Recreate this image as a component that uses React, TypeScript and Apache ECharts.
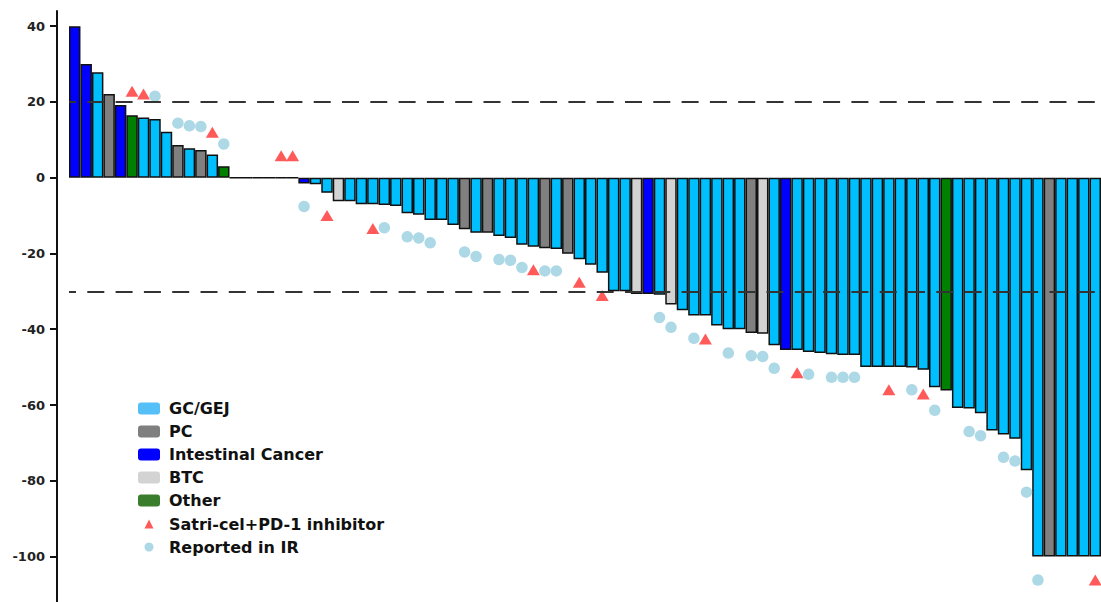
import { useEffect, useRef } from "react";
import * as echarts from "echarts";

const categoryNames = ["GC/GEJ", "PC", "Intestinal Cancer", "BTC", "Other"];
const categoryCodes = ["G", "P", "I", "B", "O"];
const barColors = ["#00BFFF", "#808080", "#0000FF", "#D3D3D3", "#008000"];
const legendColors = ["#55BFF7", "#7F7F7F", "#0000FF", "#D3D3D3", "#3A7D2C"];

// tumour type per patient (sorted waterfall order)
const tumourTypes = [
  "I", "I", "G", "P", "I", "O", "G", "G", "G", "P", "G", "P", "G", "O",
  "G", "G", "G", "G", "G", "G",
  "I", "G", "G", "B",
  "G", "G", "G", "G", "G", "G", "G", "G", "G", "G",
  "P", "G", "P", "G", "G", "G", "G", "P", "G", "P",
  "G", "G", "G", "G", "G",
  "B", "I", "G", "B",
  "G", "G", "G", "G", "G", "G",
  "P", "B", "G", "I",
  "G", "G", "G", "G", "G", "G", "G", "G", "G", "G", "G", "G", "G",
  "O",
  "G", "G", "G", "G", "G", "G", "G", "G",
  "P",
  "G", "G", "G", "G",
];

// best percentage change from baseline
const bestChange = [
  40, 30, 27.8, 22.1, 19.2, 16.5, 15.9, 15.5, 12.1, 8.6, 7.8, 7.3, 6.1, 3.0,
  0, 0, 0, 0, 0, 0,
  -1.5, -1.7, -4.0, -6.2,
  -6.2, -7.0, -7.0, -7.2, -7.5, -9.4, -9.8, -11.2, -11.2, -12.5,
  -13.6, -14.5, -14.5, -15.4, -15.9, -17.7, -18.2, -18.6, -18.8, -20.1,
  -21.5, -23.0, -25.1, -30.0, -30.0,
  -30.7, -30.7, -30.9, -33.5,
  -35.0, -36.4, -36.4, -39.0, -40.0, -40.0,
  -41.0, -41.2, -44.2, -45.5,
  -45.5, -46.0, -46.3, -46.6, -46.8, -46.8, -50, -50, -50, -50, -50.1, -50.7, -55.3,
  -56.2,
  -60.8, -60.9, -62.2, -66.7, -67.8, -68.9, -77.2, -100,
  -100,
  -100, -100, -100, -100,
];

const patients = bestChange.map((_, i) => `P${i + 1}`);

// [patient index, marker value]
const satriMarks: [number, number][] = [
  [5, 22.8], [6, 22.1], [12, 12.0], [18, 5.8], [19, 5.8], [22, -10.0], [26, -13.4],
  [40, -24.3], [44, -27.6], [46, -31.1], [55, -42.6], [63, -51.5], [71, -56.0],
  [74, -57.1], [89, -106.2],
];
const irMarks: [number, number][] = [
  [7, 21.5], [9, 14.4], [10, 13.7], [11, 13.5], [13, 8.9], [20, -7.6], [27, -13.2],
  [29, -15.6], [30, -15.9], [31, -17.2], [34, -19.6], [35, -20.8], [37, -21.6],
  [38, -21.8], [39, -23.7], [41, -24.6], [42, -24.6], [51, -36.9], [52, -39.5],
  [54, -42.4], [57, -46.3], [59, -47.0], [60, -47.2], [61, -50.3], [64, -51.9],
  [66, -52.7], [67, -52.7], [68, -52.7], [73, -56.0], [75, -61.4], [78, -67.0],
  [79, -68.1], [81, -73.8], [82, -74.8], [83, -83.0], [84, -106.2],
];

const yTicks = [-100, -80, -60, -40, -20, 0, 20, 40];
const refLines = [20, -30];

export default function App() {
  const ref = useRef<HTMLDivElement>(null);
  useEffect(() => {
    if (!ref.current) return;
    const chart = echarts.init(ref.current, undefined, { renderer: "svg" });
    const font = "DejaVu Sans";
    const legendText = {
      fontFamily: font,
      fontWeight: "bold",
      fontSize: 16,
      lineHeight: 16,
      color: "#111",
    };
    const barSeries = categoryCodes.map((code, k) => ({
      name: categoryNames[k],
      type: "bar",
      barWidth: "100%",
      barGap: "-100%",
      barCategoryGap: 0,
      itemStyle: { color: barColors[k], borderColor: "#111", borderWidth: 1.5 },
      data: bestChange.map((v, i) => (tumourTypes[i] === code ? v : "-")),
      ...(k === 0
        ? {
            markLine: {
              silent: true,
              symbol: ["none", "none"],
              label: { show: false },
              lineStyle: { color: "#333", type: [17, 11.3], width: 2, dashOffset: 10.3 },
              data: refLines.map((v) => ({ yAxis: v })),
            },
          }
        : {}),
    }));
    chart.setOption({
      animation: false,
      grid: { left: 69, right: 0, top: 11, bottom: 0 },
      xAxis: {
        type: "category",
        data: patients,
        axisLine: { show: false },
        axisTick: { show: false },
        axisLabel: { show: false },
        splitLine: { show: false },
      },
      yAxis: {
        type: "value",
        min: -112,
        max: 44,
        offset: 12,
        splitLine: { show: false },
        axisLine: { show: true, lineStyle: { color: "#111", width: 2 } },
        axisTick: { show: true, length: 7, customValues: yTicks, lineStyle: { color: "#111", width: 2 } },
        axisLabel: {
          customValues: yTicks,
          fontFamily: font,
          fontWeight: "bold",
          fontSize: 13,
          color: "#222",
          margin: 12,
        },
      },
      legend: [
        {
          orient: "vertical",
          left: 138,
          top: 400.5,
          padding: 0,
          itemWidth: 22,
          itemHeight: 12,
          itemGap: 7,
          selectedMode: false,
          itemStyle: { borderWidth: 0 },
          textStyle: { ...legendText, padding: [0, 0, 0, 4] },
          data: categoryNames.map((n, i) => ({ name: n, itemStyle: { color: legendColors[i] } })),
        },
        {
          orient: "vertical",
          left: 144.5,
          top: 516,
          padding: 0,
          itemWidth: 9,
          itemHeight: 9,
          itemGap: 7,
          selectedMode: false,
          itemStyle: { borderWidth: 0 },
          textStyle: { ...legendText, padding: [0, 0, 0, 10.5] },
          data: ["Satri-cel+PD-1 inhibitor", "Reported in IR"],
        },
      ],
      series: [
        ...barSeries,
        {
          name: "Satri-cel+PD-1 inhibitor",
          type: "scatter",
          symbol: "triangle",
          symbolSize: [13, 11],
          itemStyle: { color: "#FF5A5A", opacity: 1 },
          z: 4,
          data: satriMarks,
        },
        {
          name: "Reported in IR",
          type: "scatter",
          symbol: "circle",
          symbolSize: 11.5,
          itemStyle: { color: "#ADD8E6", opacity: 1 },
          z: 4,
          data: irMarks,
        },
      ],
    });
    return () => chart.dispose();
  }, []);
  return (
    <div
      ref={ref}
      style={{ position: "absolute", left: 0, top: 0, width: 1101, height: 602, background: "#fff" }}
    />
  );
}
